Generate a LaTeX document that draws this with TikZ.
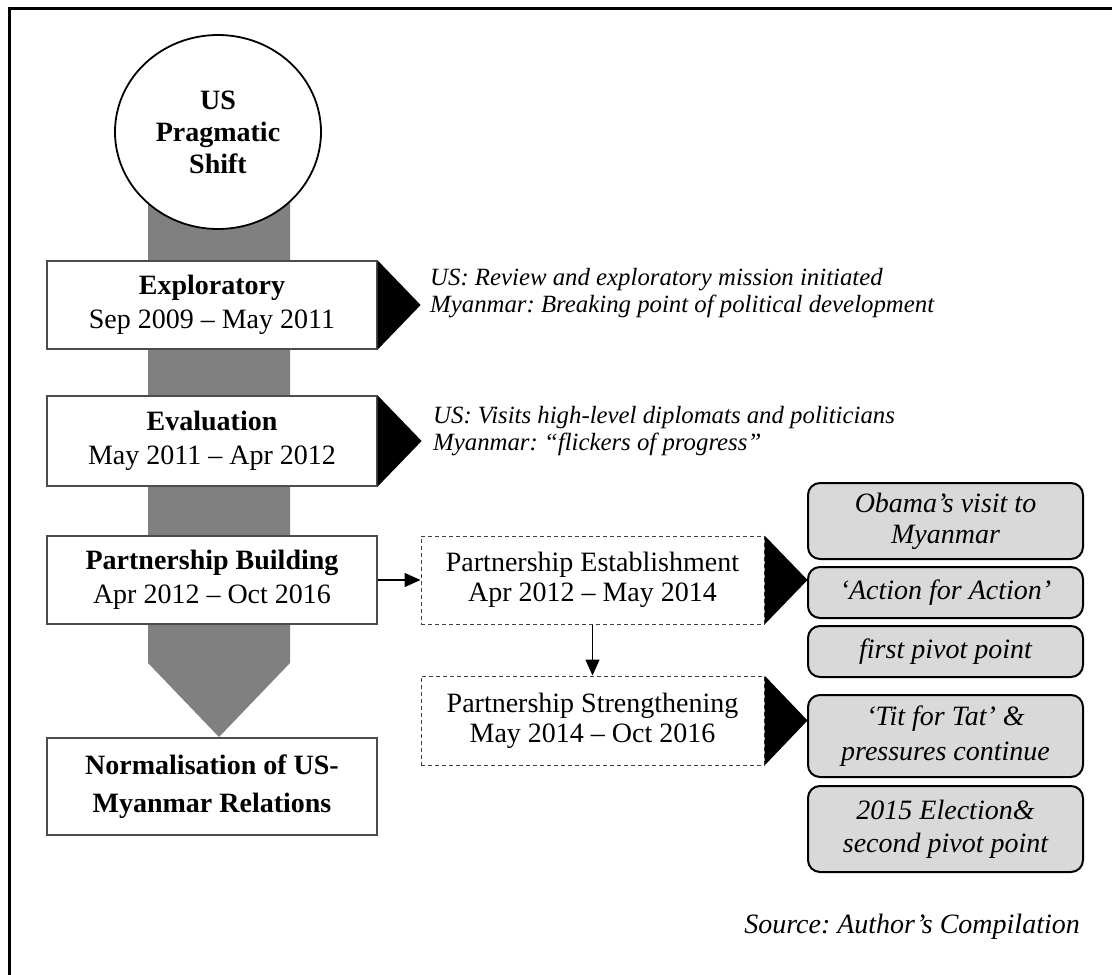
\documentclass[tikz,border=0pt]{standalone}
\usepackage{fontspec}
\setmainfont{Liberation Serif}
\usetikzlibrary{shapes.geometric,arrows.meta,calc}
\frenchspacing
\begin{document}
\begin{tikzpicture}[x=1pt,y=-1pt,
  stagebox/.style={draw=black!70,line width=1.2pt,fill=white,minimum width=330pt,
    inner sep=0pt,align=center,font=\fontsize{28}{34}\selectfont},
  subbox/.style={draw=black!75,line width=1pt,dash pattern=on 4pt off 3pt,fill=white,
    minimum width=343pt,inner sep=0pt,align=center,font=\fontsize{28}{30}\selectfont},
  notebox/.style={draw=black,line width=2pt,fill=black!15,rounded corners=12pt,
    minimum width=275pt,inner sep=0pt,align=center,font=\itshape\fontsize{28}{33}\selectfont},
  remark/.style={anchor=base west,align=left,inner sep=0pt,
    font=\itshape\fontsize{24.8}{27}\selectfont},
  pointer/.style={fill=black},
  link/.style={line width=1.5pt,-{Triangle[length=16pt,width=14pt]}}
]
\useasboundingbox (0,0) rectangle (1112,975);
\draw[line width=3pt] (9,975) -- (9,8) -- (1112,8);

% grey spine with arrow head
\fill[black!50] (148,180) -- (290,180) -- (290,663) -- (219,737) -- (148,663) -- cycle;

\node[ellipse,draw=black,line width=1.8pt,fill=white,minimum width=206pt,minimum height=194pt,
  inner sep=0pt,align=center,font=\bfseries\fontsize{28}{32}\selectfont] (shift) at (218,132)
  {US\\Pragmatic\\Shift};

% stages
\node[stagebox,minimum height=88pt] (explo) at (212,305) {\textbf{Exploratory}\\Sep 2009 -- May 2011};
\node[stagebox,minimum height=90pt] (eval) at (212,441) {\textbf{Evaluation}\\May 2011 -- Apr 2012};
\node[stagebox,minimum height=88pt] (build) at (212,580) {\textbf{Partnership Building}\\Apr 2012 -- Oct 2016};
\node[stagebox,minimum height=97pt,font=\bfseries\fontsize{28}{38}\selectfont] (norm) at (212,786.5)
  {Normalisation of US-\\Myanmar Relations};

% sub-phases
\node[subbox,minimum height=88pt] (est) at (592.5,580) {Partnership Establishment\\Apr 2012 -- May 2014};
\node[subbox,minimum height=89pt] (str) at (592.5,720.5) {Partnership Strengthening\\May 2014 -- Oct 2016};

% pointers
\fill[pointer] (explo.north east) -- ($(explo.east)+(43,0)$) -- (explo.south east) -- cycle;
\fill[pointer] (eval.north east) -- ($(eval.east)+(44,0)$) -- (eval.south east) -- cycle;
\fill[pointer] (est.north east) -- ($(est.east)+(43,0)$) -- (est.south east) -- cycle;
\fill[pointer] (str.north east) -- ($(str.east)+(43,0)$) -- (str.south east) -- cycle;

% remarks (anchored on the baseline of the last line)
\node[remark] (r1) at (430,312) {US: Review and exploratory mission initiated\\Myanmar: Breaking point of political development};
\node[remark] (r2) at (433,450) {US: Visits high-level diplomats and politicians\\Myanmar: ``flickers of progress''};

% connectors
\draw[link] (build.east) -- (est.west);
\draw[link] (est.south) -- (str.north);

% notes
\node[notebox,minimum height=76pt,font=\itshape\fontsize{28}{31}\selectfont] (n1) at (945.5,521) {Obama's visit to\\Myanmar};
\node[notebox,minimum height=51pt] (n2) at (945.5,592.5) {`Action for Action'};
\node[notebox,minimum height=51pt] (n3) at (945.5,651.5) {first pivot point};
\node[notebox,minimum height=82pt,font=\itshape\fontsize{28}{35}\selectfont] (n4) at (945.5,736) {`Tit for Tat' \&\\pressures continue};
\node[notebox,minimum height=86pt] (n5) at (945.5,829) {2015 Election\&\\second pivot point};

\node[anchor=base east,inner sep=0pt,font=\itshape\fontsize{28}{32}\selectfont] (src) at (1080,933)
  {Source: Author's Compilation};
\end{tikzpicture}
\end{document}
